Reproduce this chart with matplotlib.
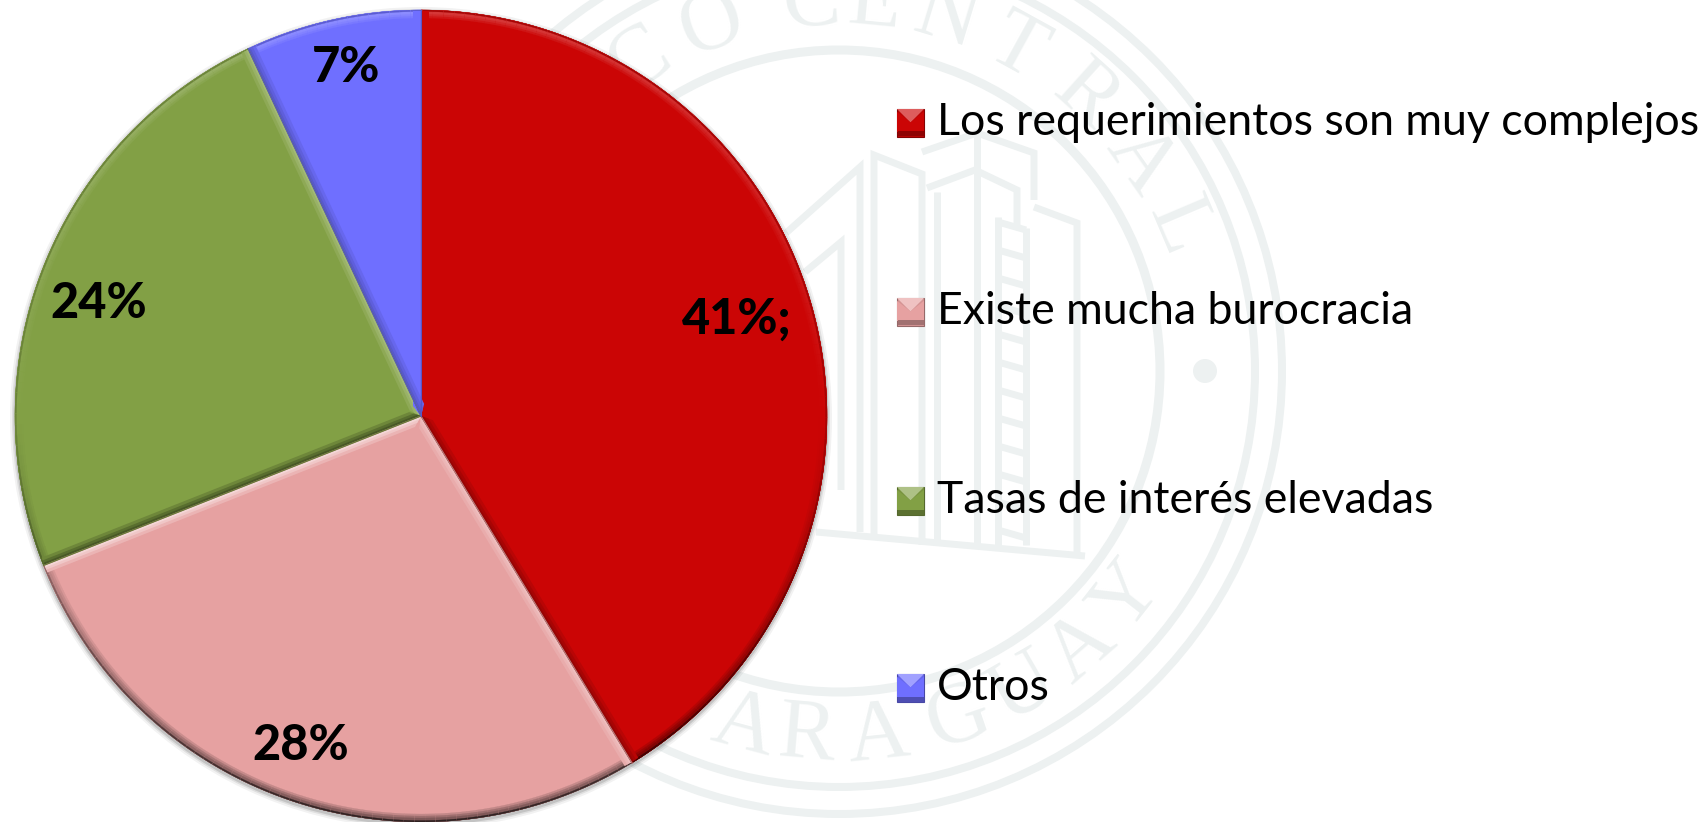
import numpy as np
import matplotlib
matplotlib.use("Agg")
import matplotlib.pyplot as plt
from matplotlib.patches import Circle, Polygon, Rectangle, Wedge

W, H = 1704, 822

categories = ["Los requerimientos son muy complejos", "Existe mucha burocracia", "Tasas de interés elevadas", "Otros"]
values = [41.3, 27.7, 24.0, 7.0]
value_labels = ["41%;", "28%", "24%", "7%"]
colors = ["#CB0505", "#E6A1A1", "#82A045", "#6F6FFF"]

seal_top = list("COCENTRAL")
seal_top_angles = [-32.7, -20.2, -4.2, 5.5, 16.9, 28.8, 42, 55, 67]
seal_bottom = list("PARAGUAY")
seal_bottom_angles = [205, 195, 185, 174, 161, 150, 139, 128]

CENTER = (421, H - 416)
RADIUS = 406
SEAL = (839, H - 371)
SEAL_INK = "#EDF1F1"

building_lines = [
    [(786, 233), (860, 167), (860, 532)],
    [(805, 272), (841, 242), (841, 490)],
    [(874, 540), (874, 155), (922, 174), (922, 545)],
    [(922, 152), (977, 133), (1034, 153), (1034, 200)],
    [(927, 188), (975, 170), (1017, 190), (1017, 225)],
    [(937, 192), (937, 545)],
    [(977, 133), (977, 545)],
    [(1034, 207), (1077, 223), (1077, 556)],
    [(816, 532), (1085, 556)],
    [(998, 217), (998, 545)],
    [(1026, 228), (1026, 545)],
]
ladder_rungs = [222, 250, 278, 306, 334, 362, 390, 418, 446, 474, 502, 530]


def blend(color, other, amount):
    c = np.array(matplotlib.colors.to_rgb(color))
    o = np.array(matplotlib.colors.to_rgb(other))
    return tuple(c * (1 - amount) + o * amount)


def shaded(color, up, light, dark):
    # up > 0 mira hacia la luz, up < 0 queda en sombra
    if up > 0:
        return blend(color, "white", light * up)
    return blend(color, "black", dark * -up)


def draw_seal(ax):
    for r, lw in [(443, 8), (416, 8), (321, 9)]:
        ax.add_patch(Circle(SEAL, r, fill=False, ec=SEAL_INK, lw=lw * 0.72, zorder=1))
    ax.add_patch(Circle((1205, H - 371), 12, color=SEAL_INK, lw=0, zorder=1))
    for line in building_lines:
        xs = [p[0] for p in line]
        ys = [H - p[1] for p in line]
        ax.plot(xs, ys, color=SEAL_INK, lw=5, solid_joinstyle="miter", solid_capstyle="butt", zorder=1)
    for y in ladder_rungs:
        ax.plot([998, 1026], [H - y, H - y - 8], color=SEAL_INK, lw=5, solid_capstyle="butt", zorder=1)
    for letters, angles, flip in [(seal_top, seal_top_angles, False), (seal_bottom, seal_bottom_angles, True)]:
        for ch, a in zip(letters, angles):
            t = np.radians(a)
            x = SEAL[0] + 368 * np.sin(t)
            y = SEAL[1] + 368 * np.cos(t)
            rot = 180 - a if flip else -a
            ax.text(x, y, ch, family="Liberation Serif", fontsize=62, color=SEAL_INK,
                    ha="center", va="center", rotation=rot, rotation_mode="anchor", zorder=1)


def edge_band(ax, theta, sign, color):
    # banda biselada a lo largo de una arista recta, sign indica hacia donde cae la porcion
    t = np.radians(theta)
    d = np.array([np.cos(t), np.sin(t)])
    n = np.array([-d[1], d[0]]) * sign  # hacia dentro de la porcion
    up = -n[1]
    steps = [(8, 0.35), (5, 0.7), (2.5, 1.0)]
    c0 = np.array(CENTER, dtype=float)
    for width, k in steps:
        rim = c0 + d * (RADIUS - 1)
        tip = c0 + d * width * 1.2 + n * width
        end = rim + n * width
        shade = shaded(color, up, 0.62 * k, 0.48 * k)
        ax.add_patch(Polygon([c0, rim, end, tip], fc=shade, lw=0, zorder=4))
    ax.plot([c0[0], c0[0] + d[0] * RADIUS], [c0[1], c0[1] + d[1] * RADIUS],
            color=blend(color, "black", 0.22), lw=0.8, zorder=5)


def draw_bevel(ax, start, stop, color):
    # borde exterior: claro arriba, oscuro abajo
    bands = [(8, 0.35), (6, 0.7), (4, 1.0), (1.5, 0.0)]
    for a in np.arange(start, stop, 1.5):
        b = min(a + 1.5, stop)
        up = np.sin(np.radians((a + b) / 2))
        for width, k in bands:
            if k == 0.0:
                rim = blend(color, "black", 0.18 if up > 0 else 0.65 * -up + 0.15)
            else:
                rim = shaded(color, up, 0.2 * k, 0.45 * k)
            ax.add_patch(Wedge(CENTER, RADIUS, a, b, width=width, fc=rim, ec=rim, lw=0.2, zorder=3))
    edge_band(ax, start, 1, color)
    edge_band(ax, stop, -1, color)


def draw_key(ax, x, y, color, size=(27, 28)):
    # y es el borde inferior de la muestra
    w, h = size
    top = y + h
    ax.add_patch(Rectangle((x, y), w, h, fc=blend(color, "black", 0.08), ec=blend(color, "black", 0.35), lw=0.8, zorder=5))
    ax.add_patch(Polygon([(x, top), (x + w, top), (x + w / 2, top - h * 0.48)],
                         fc=blend(color, "white", 0.35), lw=0, zorder=6))
    ax.add_patch(Polygon([(x + w / 2, top - h * 0.48), (x + w, top - h * 0.1), (x + w, y + 5), (x, y + 5), (x, top - h * 0.1)],
                         fc=color, lw=0, zorder=6))
    ax.add_patch(Rectangle((x + 0.5, y + 0.5), w - 1, 5, fc=blend(color, "black", 0.3), lw=0, zorder=6))


fig = plt.figure(figsize=(W / 100, H / 100), dpi=100, facecolor="white")
ax = fig.add_axes([0, 0, 1, 1])

draw_seal(ax)

# sombra suave bajo el circulo
for extra, alpha in [(5, 0.05), (3, 0.08), (1.5, 0.12)]:
    ax.add_patch(Circle((CENTER[0], CENTER[1] - 2), RADIUS + extra, fc="black", alpha=alpha, lw=0, zorder=1.5))

wedges, _ = ax.pie(values, colors=colors, startangle=90, counterclock=False,
                   center=CENTER, radius=RADIUS, wedgeprops={"linewidth": 0})
for wedge, color in zip(wedges, colors):
    wedge.set_zorder(2)
    draw_bevel(ax, wedge.theta1, wedge.theta2, color)

ax.set_xlim(0, W)
ax.set_ylim(0, H)
ax.set_aspect("auto")
ax.axis("off")

label_pos = [(737, 319), (301, 745), (99, 303), (346, 68)]
for text, (x, y) in zip(value_labels, label_pos):
    ax.text(x, H - y, text, family="Lato", weight="black", fontsize=35, color="black",
            ha="center", va="center", zorder=7)

legend_rows = [135, 324, 513, 700]
for name, color, y in zip(categories, colors, legend_rows):
    draw_key(ax, 897, H - y - 2, color)
    ax.text(937, H - y, name, family="Lato", fontsize=32.1, color="black",
            ha="left", va="baseline", zorder=7)

fig.savefig("out.png", dpi=100)
